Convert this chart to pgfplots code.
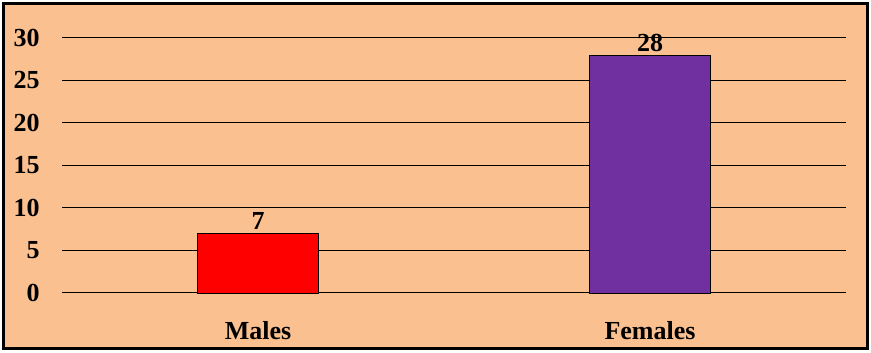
\documentclass[border=0pt]{standalone}
\usepackage{fontspec}
\setmainfont{Liberation Serif}
\usepackage{pgfplots}
\pgfplotsset{compat=1.18}
\definecolor{peach}{HTML}{FAC090}
\definecolor{barpurple}{HTML}{7030A0}
\begin{document}
\begin{tikzpicture}
\useasboundingbox (0,0) rectangle (653.25pt,264.75pt);
\filldraw[fill=peach, draw=black, line width=2.25pt] (2.85pt,3.4pt) rectangle (650.6pt,261.9pt);
\begin{axis}[
  at={(46.5pt,45pt)}, anchor=south west,
  scale only axis,
  width=588pt, height=191.25pt,
  xmin=-0.5, xmax=1.5,
  ymin=0, ymax=30,
  xtick={0,1}, xticklabels={Males,Females},
  ytick={0,5,10,15,20,25,30},
  axis line style={draw=none},
  major tick length=0pt,
  ymajorgrids,
  grid style={black, line width=0.75pt},
  /pgf/number format/assume math mode=true,
  ticklabel style={font=\fontsize{19.5}{21}\selectfont\bfseries},
  yticklabel style={anchor=east, inner sep=0pt, xshift=-16.5pt},
  xticklabel style={anchor=north, inner sep=0pt, yshift=-21.5pt},
  ybar, bar width=91pt,
  nodes near coords,
  every node near coord/.append style={font=\fontsize{19.5}{21}\selectfont\bfseries, inner sep=0pt, yshift=2.5pt, anchor=south},
  clip=false,
]
\addplot[fill=red, draw=black, line width=0.6pt, bar shift=0pt] coordinates {(0,7)};
\addplot[fill=barpurple, draw=black, line width=0.6pt, bar shift=0pt] coordinates {(1,28)};
\end{axis}
\end{tikzpicture}
\end{document}
